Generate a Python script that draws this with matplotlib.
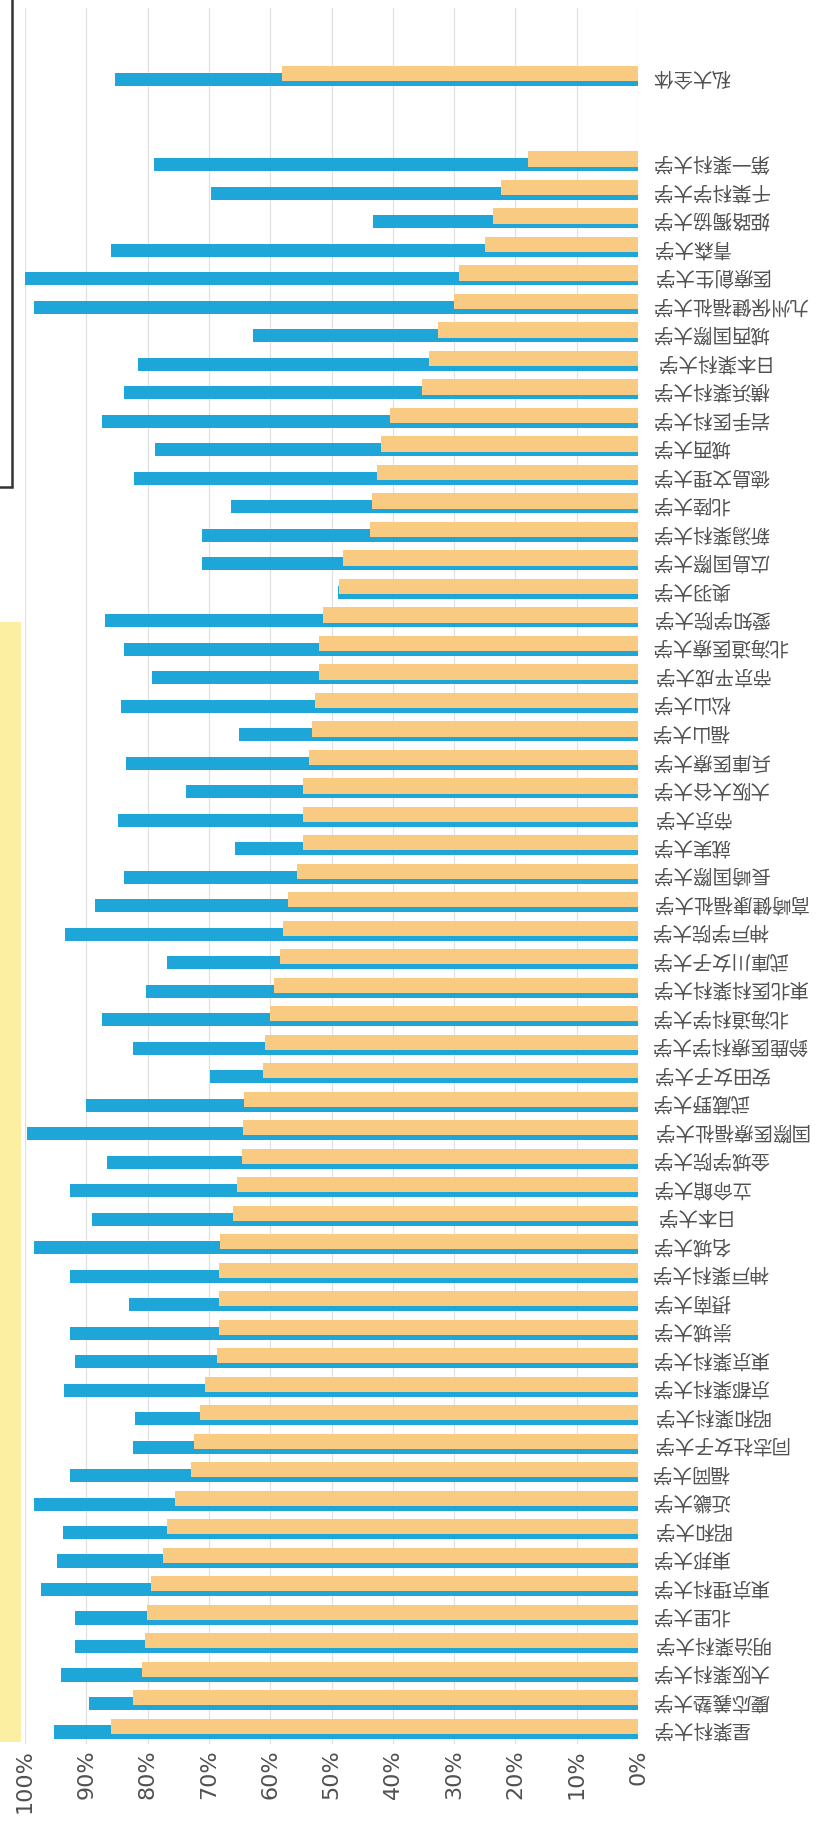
import matplotlib
matplotlib.use("Agg")
import matplotlib.pyplot as plt
from matplotlib.patches import Rectangle
import numpy as np

# ---- data (listed top to bottom as they appear in the picture) ----
total_label = "私大全体"
total_orange = 58.0
total_blue = 85.3

universities = [
    "第一薬科大学", "千葉科学大学", "姫路獨協大学", "青森大学", "医療創生大学",
    "九州保健福祉大学", "城西国際大学", "日本薬科大学", "横浜薬科大学", "岩手医科大学",
    "城西大学", "徳島文理大学", "北陸大学", "新潟薬科大学", "広島国際大学",
    "奥羽大学", "愛知学院大学", "北海道医療大学", "帝京平成大学", "松山大学",
    "福山大学", "兵庫医療大学", "大阪大谷大学", "帝京大学", "就実大学",
    "長崎国際大学", "高崎健康福祉大学", "神戸学院大学", "武庫川女子大学", "東北医科薬科大学",
    "北海道科学大学", "鈴鹿医療科学大学", "安田女子大学", "武蔵野大学", "国際医療福祉大学",
    "金城学院大学", "立命館大学", "日本大学", "名城大学", "神戸薬科大学",
    "摂南大学", "崇城大学", "東京薬科大学", "京都薬科大学", "昭和薬科大学",
    "同志社女子大学", "福岡大学", "近畿大学", "昭和大学", "東邦大学",
    "東京理科大学", "北里大学", "明治薬科大学", "大阪薬科大学", "慶応義塾大学",
    "星薬科大学",
]
orange_vals = [
    18.0, 22.3, 23.7, 25.0, 29.2,
    30.0, 32.6, 34.1, 35.3, 40.4,
    41.9, 42.5, 43.4, 43.8, 48.2,
    48.8, 51.4, 52.0, 52.0, 52.7,
    53.1, 53.7, 54.7, 54.7, 54.7,
    55.6, 57.1, 57.9, 58.4, 59.4,
    60.0, 60.8, 61.1, 64.2, 64.4,
    64.6, 65.4, 66.1, 68.2, 68.4,
    68.4, 68.4, 68.7, 70.6, 71.4,
    72.5, 72.9, 75.6, 76.8, 77.5,
    79.5, 80.1, 80.5, 80.9, 82.4,
    86.0,
]
blue_vals = [
    79.0, 69.7, 43.3, 86.0, 100.0,
    98.6, 62.8, 81.6, 83.9, 87.5,
    78.8, 82.2, 66.4, 71.2, 71.2,
    49.0, 87.0, 83.9, 79.3, 84.3,
    65.1, 83.6, 73.7, 84.9, 65.7,
    83.9, 88.5, 93.4, 76.9, 80.3,
    87.4, 82.4, 69.8, 90.0, 99.7,
    86.6, 92.7, 89.1, 98.6, 92.7,
    83.0, 92.7, 91.9, 93.6, 82.0,
    82.4, 92.7, 98.6, 93.8, 94.8,
    97.4, 91.9, 91.9, 94.2, 89.6,
    95.2,
]
tick_values = [100, 90, 80, 70, 60, 50, 40, 30, 20, 10, 0]
tick_labels = ["100%", "90%", "80%", "70%", "60%", "50%", "40%", "30%", "20%", "10%", "0%"]

# ---- styling ----
ORANGE = "#F9CB82"
BLUE = "#1EA6D9"
LABEL_COLOR = "#505050"

W, H = 825, 1827
fig = plt.figure(figsize=(W / 100, H / 100), dpi=100)
fig.patch.set_facecolor("white")

ax_left, ax_right = 25 / W, 638 / W
ax_top, ax_bottom = 1 - 8 / H, 1 - 1744 / H
ax = fig.add_axes([ax_left, ax_bottom, ax_right - ax_left, ax_top - ax_bottom])

labels = [total_label] + universities
ypos = np.array([-3] + list(range(len(universities))), dtype=float)
ovals = np.array([total_orange] + orange_vals)
bvals = np.array([total_blue] + blue_vals)

ax.barh(ypos + 0.11, bvals, height=0.46, color=BLUE, zorder=2, linewidth=0)
ax.barh(ypos - 0.09, ovals, height=0.53, color=ORANGE, zorder=3, linewidth=0)

ax.set_xlim(100, 0)
ax.set_ylim(55.53, -5.39)

ax.set_xticks(tick_values)
ax.set_xticklabels(tick_labels, rotation=90, fontsize=16, color=LABEL_COLOR,
                   family="DejaVu Sans")
ax.tick_params(axis="x", length=0, pad=4)
ax.set_yticks([])
ax.grid(axis="x", color="#e0e0e0", linewidth=0.9, zorder=0)
ax.set_axisbelow(True)
for s in ax.spines.values():
    s.set_visible(False)

for lab, y in zip(labels, ypos):
    ax.text(-2.3, y, lab, rotation=180, ha="left", va="center",
            fontsize=14, color=LABEL_COLOR,
            family=["Noto Sans CJK JP", "DejaVu Sans"], clip_on=False)

# top-left framed box edge
fig.add_artist(Rectangle((-0.05, 1 - 487 / H), 0.05 + 12 / W, 487 / H + 0.05,
                         transform=fig.transFigure, fill=False,
                         edgecolor="#333333", linewidth=1.8))
# yellow side panel
fig.add_artist(Rectangle((0, 1 - 1742 / H), 21 / W, (1742 - 622) / H,
                         transform=fig.transFigure, facecolor="#FCEFA2",
                         edgecolor="none"))

fig.savefig("out.png", dpi=100, facecolor="white")
